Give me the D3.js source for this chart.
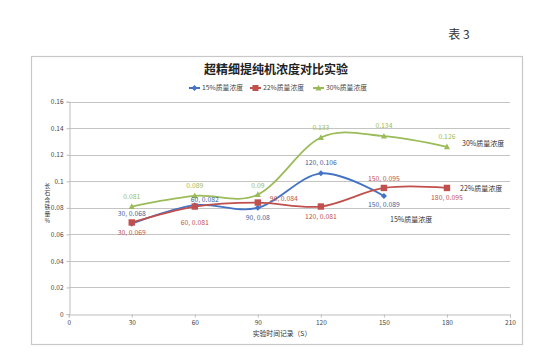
<!DOCTYPE html>
<html>
<head>
<meta charset="utf-8">
<script src="https://cdn.jsdelivr.net/npm/d3@7/dist/d3.min.js"></script>
<style>
html,body{margin:0;padding:0;background:#fff;}
svg{display:block;}
text{font-family:"Noto Sans CJK SC","Liberation Sans",sans-serif;}
</style>
</head>
<body>
<svg id="chart" width="554" height="359"></svg>
<script>
// ---- data ----
const seriesNames = ["15%质量浓度", "22%质量浓度", "30%质量浓度"];
const times15 = [30, 60, 90, 120, 150];
const values15 = [0.068, 0.082, 0.08, 0.106, 0.089];
const times22 = [30, 60, 90, 120, 150, 180];
const values22 = [0.069, 0.081, 0.084, 0.081, 0.095, 0.095];
const times30 = [30, 60, 90, 120, 150, 180];
const values30 = [0.081, 0.089, 0.09, 0.133, 0.134, 0.126];
const xTicks = [0, 30, 60, 90, 120, 150, 180, 210];
const yTicks = [0, 0.02, 0.04, 0.06, 0.08, 0.1, 0.12, 0.14, 0.16];
const chartTitle = "超精细提纯机浓度对比实验";
const pageLabel = "表 3";
const xTitle = "实验时间记录（S）";
const yTitle = "长石含铁量%";

// ---- label placement (offsets from point, px) ----
const offsets15 = [[0, -10], [10, -5], [0, 10], [0, -11], [0, 9]];
const offsets22 = [[0, 10], [0, 16], [26, -4], [0, 10], [0, -9], [0, 10]];
const offsets30 = [[0, -10], [0, -10], [0, -9], [0, -10], [0, -10], [0, -10]];
const colors = ["#4472C4", "#C0504D", "#9BBB59"];
const labelColors = ["#3B5E9A", "#C0504D", "#9BBB59"];

const svg = d3.select("#chart");

const x = d3.scaleLinear().domain([0, 210]).range([68.7, 510]);
const y = d3.scaleLinear().domain([0, 0.16]).range([314, 101.7]);

// frame
svg.append("rect").attr("x", 31.5).attr("y", 56.5).attr("width", 491).attr("height", 288)
  .attr("fill", "#fff").attr("stroke", "#c8c8c8").attr("stroke-width", 1.2);

// page label
svg.append("text").attr("x", 459).attr("y", 39).attr("text-anchor", "middle")
  .attr("font-size", 12).attr("fill", "#333").text(pageLabel);

// title
svg.append("text").attr("x", 276).attr("y", 74).attr("text-anchor", "middle")
  .attr("font-size", 12).attr("font-weight", "bold").attr("fill", "#222").text(chartTitle);

// gridlines
svg.append("g").selectAll("line").data(yTicks.filter(d => d > 0)).join("line")
  .attr("x1", x(0)).attr("x2", x(210))
  .attr("y1", d => Math.round(y(d)) + 0.5).attr("y2", d => Math.round(y(d)) + 0.5)
  .attr("stroke", "#c4c4c4").attr("stroke-width", 1);

// axes
const xAxis = d3.axisBottom(x).tickValues(xTicks).tickFormat(d3.format("d")).tickSize(3).tickPadding(3);
const gx = svg.append("g").attr("transform", `translate(0,${Math.round(y(0)) + 0.5})`).call(xAxis);
gx.select(".domain").attr("stroke", "#bdbdbd");
gx.selectAll(".tick line").attr("stroke", "#bdbdbd");
gx.selectAll("text").attr("font-size", 6.5).attr("fill", "#444").attr("font-family", "Liberation Sans, sans-serif");

const yAxis = d3.axisLeft(y).tickValues(yTicks).tickFormat(d => d3.format("")(+d.toFixed(2))).tickSize(3).tickPadding(3);
const gy = svg.append("g").attr("transform", `translate(${Math.round(x(0)) + 0.5},0)`).call(yAxis);
gy.select(".domain").attr("stroke", "#bdbdbd");
gy.selectAll(".tick line").attr("stroke", "#bdbdbd");
gy.selectAll("text").attr("font-size", 6.5).attr("fill", "#444").attr("font-family", "Liberation Sans, sans-serif");

// axis titles
svg.append("text").attr("x", 282).attr("y", 336).attr("text-anchor", "middle")
  .attr("font-size", 6.8).attr("fill", "#333").text(xTitle);
svg.append("text").attr("x", 47.5).attr("y", 183)
  .style("writing-mode", "vertical-rl").style("text-orientation", "upright")
  .attr("letter-spacing", 1.2)
  .attr("font-size", 5.8).attr("fill", "#333").text(yTitle);

// legend
const legendX = [189, 250, 313];
const lg = svg.append("g");
seriesNames.forEach((n, i) => {
  const g = lg.append("g").attr("transform", `translate(${legendX[i]},88)`);
  g.append("line").attr("x1", 0).attr("x2", 11).attr("y1", 0).attr("y2", 0)
    .attr("stroke", colors[i]).attr("stroke-width", 2);
  drawMarker(g, i, 5.5, 0, 3);
  g.append("text").attr("x", 13).attr("y", 2.4).attr("font-size", 6.8).attr("fill", "#444").text(n);
});

function drawMarker(g, i, cx, cy, r) {
  if (i === 0) {
    g.append("path").attr("d", `M${cx},${cy - r}L${cx + r},${cy}L${cx},${cy + r}L${cx - r},${cy}Z`).attr("fill", colors[i]);
  } else if (i === 1) {
    g.append("rect").attr("x", cx - r).attr("y", cy - r).attr("width", 2 * r).attr("height", 2 * r).attr("fill", colors[i]);
  } else {
    g.append("path").attr("d", `M${cx},${cy - r * 1.1}L${cx + r},${cy + r * 0.8}L${cx - r},${cy + r * 0.8}Z`).attr("fill", colors[i]);
  }
}

const series = [
  { times: times15, values: values15, offsets: offsets15, full: true },
  { times: times22, values: values22, offsets: offsets22, full: true },
  { times: times30, values: values30, offsets: offsets30, full: false }
];

const line = d3.line().x(d => x(d[0])).y(d => y(d[1])).curve(d3.curveCardinal.tension(0));

series.forEach((s, i) => {
  const pts = s.times.map((t, k) => [t, s.values[k]]);
  svg.append("path").datum(pts).attr("d", line).attr("fill", "none")
    .attr("stroke", colors[i]).attr("stroke-width", 1.8);
});

series.forEach((s, i) => {
  const g = svg.append("g");
  s.times.forEach((t, k) => {
    drawMarker(g, i, x(t), y(s.values[k]), i === 1 ? 3.2 : 3);
  });
});

series.forEach((s, i) => {
  const g = svg.append("g");
  s.times.forEach((t, k) => {
    const txt = s.full ? `${t}, ${s.values[k]}` : `${s.values[k]}`;
    g.append("text").attr("x", x(t) + s.offsets[k][0]).attr("y", y(s.values[k]) + s.offsets[k][1] + 2.3)
      .attr("text-anchor", "middle").attr("font-size", 6.8).attr("fill", labelColors[i])
      .attr("font-family", "Liberation Sans, sans-serif").text(txt);
  });
});

// series name annotations
const nameAnchors = [[390, 222], [460, 191], [462, 146]];
seriesNames.forEach((n, i) => {
  svg.append("text").attr("x", nameAnchors[i][0]).attr("y", nameAnchors[i][1])
    .attr("font-size", 7).attr("fill", "#333").text(n);
});
</script>
</body>
</html>
